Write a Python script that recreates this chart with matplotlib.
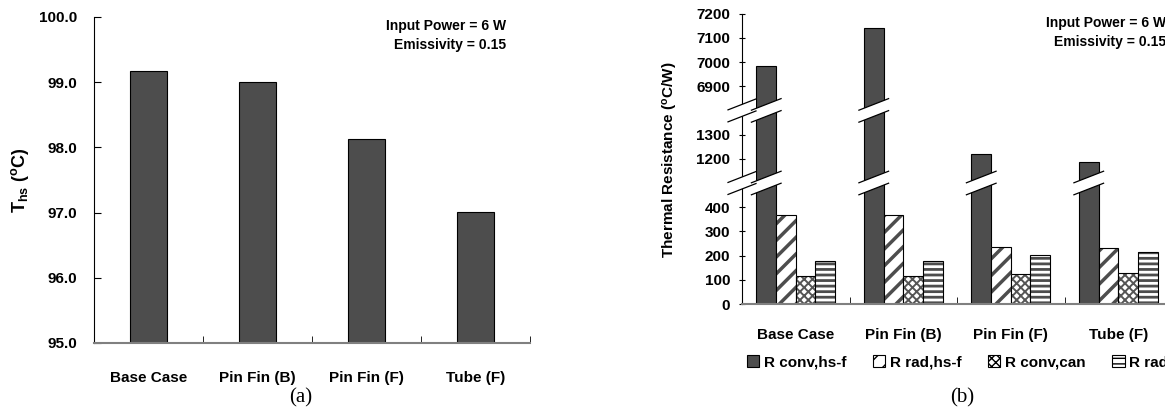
import matplotlib
matplotlib.use('Agg')
import matplotlib.pyplot as plt
from matplotlib.patches import Patch, Polygon
from matplotlib.lines import Line2D
import numpy as np

plt.rcParams['font.family'] = ['Liberation Sans', 'DejaVu Sans']
plt.rcParams['font.weight'] = 'bold'
plt.rcParams['mathtext.fontset'] = 'custom'
plt.rcParams['mathtext.rm'] = 'Liberation Sans:bold'
plt.rcParams['mathtext.it'] = 'Liberation Sans:bold'
plt.rcParams['mathtext.bf'] = 'Liberation Sans:bold'

# data
cases = ['Base Case', 'Pin Fin (B)', 'Pin Fin (F)', 'Tube (F)']
t_hs = [99.17, 99.0, 98.13, 97.01]

series = ['R conv,hs-f', 'R rad,hs-f', 'R conv,can', 'R rad,can']
r_conv_hsf = [6983, 7142, 1220, 1188]
r_rad_hsf = [366, 366, 234, 230]
r_conv_can = [117, 117, 123, 127]
r_rad_can = [179, 179, 202, 214]

W, H = 1165, 413
fig = plt.figure(figsize=(W / 100, H / 100), dpi=100)


def fx(px):
    return px / W


def fy(py):
    return (H - py) / H


dark = '#4d4d4d'

# ---------------- (a) ----------------
ax = fig.add_axes([fx(94), fy(343), fx(530) - fx(94), fy(17) - fy(343)])
x = np.arange(len(cases))
ax.bar(x, t_hs, width=0.34, color=dark, edgecolor='black', linewidth=0.8)
ax.set_xlim(-0.5, 3.5)
ax.set_ylim(95, 100)
ax.set_yticks(np.arange(95, 100.1, 1.0))
ax.set_yticklabels(['%.1f' % v for v in np.arange(95, 100.1, 1.0)])
ax.set_xticks(x)
ax.set_xticklabels(cases)
ax.set_xticks(np.arange(-0.5, 3.6, 1), minor=True)
ax.tick_params(axis='x', which='major', length=0, pad=20, labelsize=11)
ax.tick_params(axis='x', which='minor', direction='in', length=5, color='black')
ax.tick_params(axis='y', direction='in', length=5, pad=12, labelsize=11)
for s in ['top', 'right']:
    ax.spines[s].set_visible(False)
ax.spines['bottom'].set_color('#808080')
ax.spines['bottom'].set_linewidth(1.5)
ax.spines['left'].set_linewidth(0.8)
fig.text(fx(20), fy(180), r'T$_{\mathrm{hs}}$ ($^{\mathrm{o}}$C)', rotation=90,
         ha='center', va='center', fontsize=13)
fig.text(fx(506), fy(26), 'Input Power = 6 W', ha='right', va='center', fontsize=10)
fig.text(fx(506), fy(45), 'Emissivity = 0.15', ha='right', va='center', fontsize=10)
fig.text(fx(301), fy(398), '(a)', ha='center', va='center', fontsize=15,
         family='Liberation Serif', weight='normal')

# ---------------- (b) ----------------
x0, x1 = 742, 1172
segs = [(0, 500), (1100, 1400), (6800, 7200)]
ppu = 0.242  # pixels per unit
ybot = 304
axes_b = []
for lo, hi in segs:
    h = (hi - lo) * ppu
    a = fig.add_axes([fx(x0), fy(ybot), fx(x1) - fx(x0), fy(ybot - h) - fy(ybot)])
    ybot = ybot - h
    axes_b.append(a)

bw = 0.183
offs = [-1.5 * bw, -0.5 * bw, 0.5 * bw, 1.5 * bw]
styles = [
    dict(color=dark, hatch=None),
    dict(color='white', hatch='//', hc=dark, hl=2.5),
    dict(color='white', hatch='xxxx', hc='#555555', hl=1.4),
    dict(color='white', hatch='---', hc=dark, hl=2.0),
]
vals = [r_conv_hsf, r_rad_hsf, r_conv_can, r_rad_can]

for a in axes_b:
    for k, (v, st) in enumerate(zip(vals, styles)):
        if st['hatch'] is None:
            a.bar(x + offs[k], v, width=bw, color=st['color'], edgecolor='black', linewidth=0.8)
        else:
            with plt.rc_context({'hatch.linewidth': st['hl']}):
                a.bar(x + offs[k], v, width=bw, color=st['color'], edgecolor=st['hc'],
                      hatch=st['hatch'], linewidth=0)
            a.bar(x + offs[k], v, width=bw, fill=False, edgecolor='black', linewidth=0.8)
    a.set_xlim(-0.5, 3.5)
    for s in ['top', 'right', 'bottom']:
        a.spines[s].set_visible(False)
    a.spines['left'].set_linewidth(0.8)
    a.tick_params(axis='y', direction='inout', length=5, pad=6, labelsize=11)
    a.set_xticks([])
    a.patch.set_alpha(0)

axes_b[0].set_ylim(*segs[0])
axes_b[0].set_yticks([0, 100, 200, 300, 400])
axes_b[1].set_ylim(*segs[1])
axes_b[1].set_yticks([1200, 1300])
axes_b[2].set_ylim(*segs[2])
axes_b[2].set_yticks([6900, 7000, 7100, 7200])

ab = axes_b[0]
ab.spines['bottom'].set_visible(True)
ab.spines['bottom'].set_color('#808080')
ab.spines['bottom'].set_linewidth(1.5)
ab.set_xticks(x)
ab.set_xticklabels(cases)
ab.set_xticks(np.arange(-0.5, 3.6, 1), minor=True)
ab.tick_params(axis='x', which='major', length=0, pad=17, labelsize=11)
ab.tick_params(axis='x', which='minor', direction='in', length=5, color='black')

fig.text(fx(670), fy(160), r'Thermal Resistance ($^{\mathrm{o}}$C/W)', rotation=90,
         ha='center', va='center', fontsize=11)
fig.text(fx(1166), fy(23), 'Input Power = 6 W', ha='right', va='center', fontsize=10)
fig.text(fx(1166), fy(42), 'Emissivity = 0.15', ha='right', va='center', fontsize=10)
fig.text(fx(962), fy(398), '(b)', ha='center', va='center', fontsize=15,
         family='Liberation Serif', weight='normal')


# break marks
def brk(xa, xb, yc, hh=6, k=0.39):
    xs = [xa, xb, xb, xa]
    ys = [yc - hh - k * (xa - (xa + xb) / 2), yc - hh - k * (xb - (xa + xb) / 2),
          yc + hh - k * (xb - (xa + xb) / 2), yc + hh - k * (xa - (xa + xb) / 2)]
    pts = [(fx(px), fy(py)) for px, py in zip(xs, ys)]
    fig.add_artist(Polygon(pts, closed=True, facecolor='white', edgecolor='none', zorder=10))
    fig.add_artist(Line2D([pts[0][0], pts[1][0]], [pts[0][1], pts[1][1]], color='black', lw=0.9, zorder=11))
    fig.add_artist(Line2D([pts[3][0], pts[2][0]], [pts[3][1], pts[2][1]], color='black', lw=0.9, zorder=11))


def to_px(a, xd, yd):
    d = a.transData.transform((xd, yd))
    return d[0], H - d[1]


join_lo = to_px(axes_b[0], 0, segs[0][1])[1]
join_hi = to_px(axes_b[1], 0, segs[1][1])[1]
for yj in [join_lo, join_hi]:
    brk(x0 - 14, x0 + 14, yj)
for i, v in enumerate(r_conv_hsf):
    xl = to_px(axes_b[0], i + offs[0] - bw / 2, 0)[0]
    xr = to_px(axes_b[0], i + offs[0] + bw / 2, 0)[0]
    if v > segs[1][0]:
        brk(xl - 5, xr + 5, join_lo)
    if v > segs[2][0]:
        brk(xl - 5, xr + 5, join_hi)

# legend
handles = []
for st in styles:
    if st['hatch'] is None:
        handles.append(Patch(facecolor=st['color'], edgecolor='black', linewidth=0.8))
    else:
        handles.append(Patch(facecolor='white', edgecolor='black', hatch=st['hatch'], linewidth=0.8))
fig.legend(handles, series, loc='center left', bbox_to_anchor=(fx(747), fy(362)),
           ncol=4, frameon=False, fontsize=11, handlelength=0.8, handleheight=0.8,
           handletextpad=0.3, columnspacing=1.75, borderpad=0, borderaxespad=0)

fig.savefig('out.png', dpi=100)
